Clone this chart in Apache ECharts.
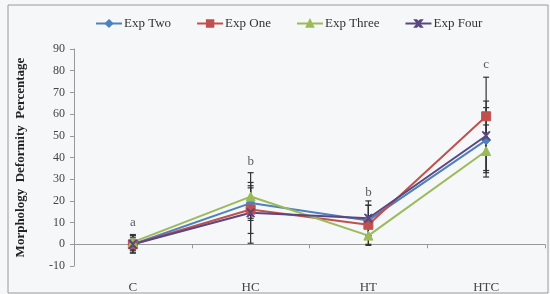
<!DOCTYPE html>
<html>
<head>
<meta charset="utf-8">
<script src="https://cdn.jsdelivr.net/npm/echarts@6/dist/echarts.min.js"></script>
<style>
  html, body { margin: 0; padding: 0; background: #f5f7f8; }
  #chart { width: 550px; height: 294px; }
</style>
</head>
<body>
<div id="chart"></div>
<script>
// categories and values
var categories = ['C', 'HC', 'HT', 'HTC'];

var expTwo = [0, 19, 11, 48];
var expOne = [0, 16, 9, 59];
var expThree = [1, 22, 4, 43];
var expFour = [0, 14.5, 12, 50];

// error bar half widths
var errTwo = [3, 7, 7, 15];
var errOne = [4, 11, 9, 18];
var errThree = [3.5, 11, 4.5, 12];
var errFour = [4, 14, 8, 16];

// significance letters and the height they sit at
var letters = ['a', 'b', 'b', 'c'];
var letterPos = [10, 38, 24, 83];

var font = 'Liberation Serif, Times New Roman, serif';

function errData(vals, errs) {
    var out = [];
    for (var i = 0; i < vals.length; i++) {
        out.push([i, vals[i] - errs[i], vals[i] + errs[i]]);
    }
    return out;
}

function errSeries(vals, errs) {
    return {
        type: 'custom',
        silent: true,
        z: 1,
        data: errData(vals, errs),
        renderItem: function (params, api) {
            var x = api.value(0);
            var lo = api.coord([x, api.value(1)]);
            var hi = api.coord([x, api.value(2)]);
            var w = 3;
            var st = { stroke: '#333', lineWidth: 1.2 };
            return {
                type: 'group',
                children: [
                    { type: 'line', shape: { x1: lo[0], y1: lo[1], x2: hi[0], y2: hi[1] }, style: st },
                    { type: 'line', shape: { x1: lo[0] - w, y1: lo[1], x2: lo[0] + w, y2: lo[1] }, style: st },
                    { type: 'line', shape: { x1: hi[0] - w, y1: hi[1], x2: hi[0] + w, y2: hi[1] }, style: st }
                ]
            };
        }
    };
}

function lineSeries(name, vals, color, symbol, size) {
    return {
        name: name,
        type: 'line',
        data: vals,
        z: 3,
        symbol: symbol,
        symbolSize: size,
        lineStyle: { color: color, width: 2 },
        itemStyle: { color: color, borderColor: color, borderWidth: 1 }
    };
}

var xMark = 'path://M0,0 L2,0 L5,3 L8,0 L10,0 L6,5 L10,10 L8,10 L5,7 L2,10 L0,10 L4,5 Z';

var myChart = echarts.init(document.getElementById('chart'));
myChart.setOption({
    backgroundColor: '#f5f7f8',
    animation: false,
    textStyle: { fontFamily: font },
    graphic: [{
        type: 'rect',
        shape: { x: 8, y: 5, width: 540, height: 288 },
        style: { fill: 'none', stroke: '#9a9a9a', lineWidth: 1 },
        silent: true
    }],
    legend: {
        top: 12,
        left: 90,
        itemWidth: 26,
        itemHeight: 8,
        itemGap: 25,
        textStyle: { fontFamily: font, fontSize: 13, color: '#333', padding: [0, 0, 0, -3] },
        data: ['Exp Two', 'Exp One', 'Exp Three', 'Exp Four']
    },
    grid: { left: 74, right: 5, top: 49, bottom: 12 },
    xAxis: {
        type: 'category',
        data: categories,
        boundaryGap: true,
        axisLine: { onZero: true, lineStyle: { color: '#999' } },
        axisTick: { show: true, length: 4, lineStyle: { color: '#999' } },
        axisLabel: { margin: 15, fontFamily: font, fontSize: 13, color: '#444' }
    },
    yAxis: {
        type: 'value',
        min: -10,
        max: 90,
        interval: 10,
        name: 'Morphology  Deformity  Percentage',
        nameLocation: 'middle',
        nameGap: 47,
        nameTextStyle: { fontFamily: font, fontSize: 13, fontWeight: 'bold', color: '#222' },
        axisLine: { show: true, lineStyle: { color: '#999' } },
        axisTick: { show: true, length: 4, lineStyle: { color: '#999' } },
        splitLine: { show: false },
        axisLabel: { margin: 9, fontFamily: font, fontSize: 12, color: '#444' }
    },
    series: [
        errSeries(expTwo, errTwo),
        errSeries(expOne, errOne),
        errSeries(expThree, errThree),
        errSeries(expFour, errFour),
        lineSeries('Exp Two', expTwo, '#4f81bd', 'diamond', 9),
        lineSeries('Exp One', expOne, '#c0504d', 'rect', 9),
        lineSeries('Exp Three', expThree, '#9bbb59', 'triangle', 9),
        lineSeries('Exp Four', expFour, '#5a4680', xMark, 8),
        {
            type: 'scatter',
            silent: true,
            symbolSize: 0,
            data: letterPos,
            label: {
                show: true,
                position: 'inside',
                formatter: function (p) { return letters[p.dataIndex]; },
                fontFamily: font,
                fontSize: 13,
                color: '#333'
            }
        }
    ]
});
</script>
</body>
</html>
